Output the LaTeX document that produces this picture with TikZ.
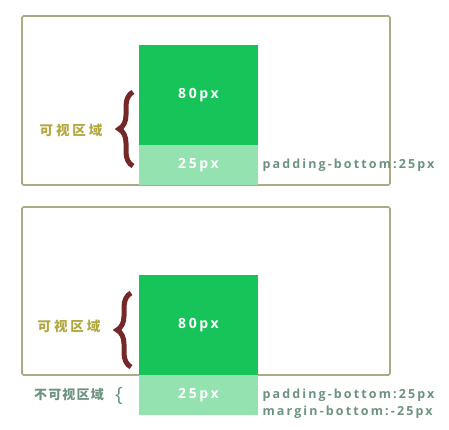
\documentclass[tikz,border=0pt]{standalone}
\usepackage{fontspec}
\setmainfont{Open Sans}
\newfontfamily\cjk[LetterSpace=22]{Noto Sans CJK SC}
\newfontfamily\cjktight[LetterSpace=9]{Noto Sans CJK SC}
\newfontfamily\spaced[LetterSpace=19]{Open Sans}
\newfontfamily\notefont[LetterSpace=17]{Open Sans}
\usetikzlibrary{decorations.pathreplacing,positioning}

\definecolor{framecol}{RGB}{172,170,132}
\definecolor{boxdark}{RGB}{22,196,90}
\definecolor{boxlight}{RGB}{148,226,176}
\definecolor{bracecol}{RGB}{118,40,40}
\definecolor{seencol}{RGB}{178,168,66}
\definecolor{notecol}{RGB}{108,146,128}

\tikzset{
	frame/.style={draw=framecol, line width=1.6pt, rounded corners=1.5pt, inner sep=0pt},
	block/.style={inner sep=0pt, minimum width=119pt, text=white, font=\spaced\bfseries\fontsize{14}{14}\selectfont},
	seen/.style={text=seencol, font=\cjk\bfseries\fontsize{13.5}{14}\selectfont},
	note/.style={text=notecol, anchor=west, font=\notefont\bfseries\fontsize{12.5}{13}\selectfont},
	bigbrace/.style={draw=bracecol, line width=5pt, decorate, decoration={brace, amplitude=14pt}},
}

\begin{document}
\begin{tikzpicture}[x=1pt, y=-1pt]
	\useasboundingbox (0,0) rectangle (449,430);

	%upper panel
	\node (frameA) [frame, minimum width=368pt, minimum height=169pt] at (206,100.5) {};
	\node (darkA) [block, fill=boxdark, minimum height=100pt] at (198.5,95) {80px};
	\node (lightA) [block, fill=boxlight, minimum height=40pt] at (198.5,165) {25px};
	\coordinate (braceAlow) at (133,166);
	\coordinate (braceAtop) at (133,92);
	\draw[bigbrace] (braceAlow) -- (braceAtop);
	\node (seenA) [seen] at (71,130) {可视区域};
	\node (padA) [note] at (259,165) {padding-bottom:25px};

	%lower panel
	\node (frameB) [frame, minimum width=368pt, minimum height=168pt] at (206,291) {};
	\node (darkB) [block, fill=boxdark, minimum height=100pt] at (198.5,325) {80px};
	\node (lightB) [block, fill=boxlight, minimum height=40pt] at (198.5,395) {25px};
	\coordinate (braceBlow) at (131,367);
	\coordinate (braceBtop) at (131,293);
	\draw[bigbrace] (braceBlow) -- (braceBtop);
	\node (seenB) [seen] at (69,326) {可视区域};
	\node (hiddenB) [seen, text=notecol, font=\cjktight\bfseries\fontsize{13}{13}\selectfont] at (69,395) {不可视区域};
	\node (smallbrace) [text=notecol, font=\fontsize{20}{20}\selectfont] at (119,396) {\{};
	\node (padB) [note] at (259,395) {padding-bottom:25px};
	\node (marginB) [note, below=0pt of padB.south west, anchor=north west, yshift=2pt] {margin-bottom:-25px};
\end{tikzpicture}
\end{document}
